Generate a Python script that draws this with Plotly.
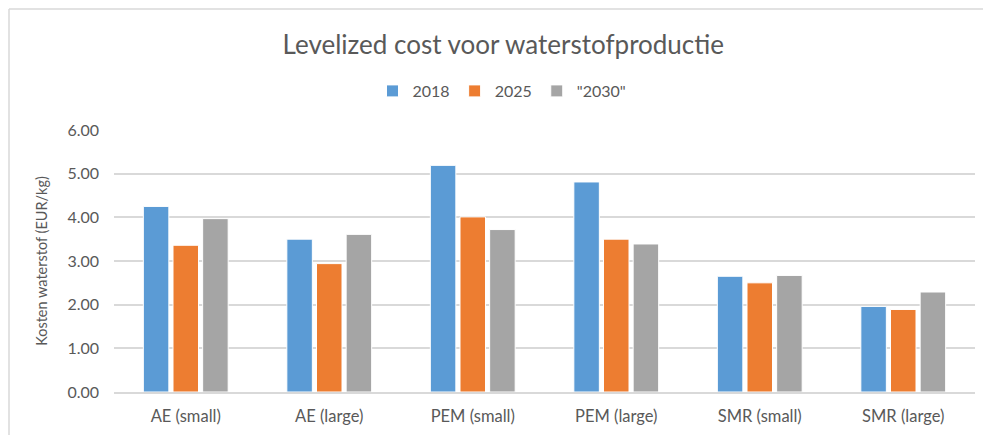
import plotly.graph_objects as go

categories = ["AE (small)", "AE (large)", "PEM (small)", "PEM (large)", "SMR (small)", "SMR (large)"]
series_names = ["2018", "2025", "\"2030\""]
values_2018 = [4.25, 3.50, 5.19, 4.81, 2.65, 1.96]
values_2025 = [3.36, 2.94, 4.01, 3.50, 2.50, 1.89]
values_2030 = [3.97, 3.61, 3.72, 3.39, 2.67, 2.29]
colors = ["#5B9BD5", "#ED7D31", "#A5A5A5"]
tick_vals = [0, 1, 2, 3, 4, 5, 6]
tick_text = ["0.00", "1.00", "2.00", "3.00", "4.00", "5.00", "6.00"]

W, H = 983, 435
ml, mr, mt, mb = 114, 8, 130, 43
pw, ph = W - ml - mr, H - mt - mb

font_family = "Lato, Open Sans, sans-serif"
txt = "#595959"

fig = go.Figure()
for name, vals, c in zip(series_names, [values_2018, values_2025, values_2030], colors):
    fig.add_trace(go.Bar(x=categories, y=vals, name=name, marker=dict(color=c, line=dict(color="white", width=1))))

def px_x(p):
    return (p - ml) / pw

def px_y(p):
    return 1 - (p - mt) / ph

fig.update_layout(
    width=W, height=H,
    margin=dict(l=ml, r=mr, t=mt, b=mb, autoexpand=False),
    paper_bgcolor="white", plot_bgcolor="white",
    barmode="group", bargap=0.38, bargroupgap=0.14,
    font=dict(family=font_family, color=txt, size=16),
    title=dict(text="Levelized cost voor waterstofproductie", x=0.512, xanchor="center",
               y=1 - 45 / H, yanchor="middle", font=dict(size=26, color=txt, family=font_family)),
    legend=dict(orientation="h", x=px_x(502), xanchor="center", y=px_y(91), yanchor="middle",
                font=dict(size=16, color=txt), itemwidth=30, traceorder="normal"),
    xaxis=dict(showgrid=False, showline=True, linecolor="#D9D9D9", linewidth=1.5,
               ticks="", ticklabelstandoff=8, tickfont=dict(size=16.5, color=txt)),
    yaxis=dict(range=[0, 6], tickvals=tick_vals, ticktext=tick_text, showgrid=True,
               gridcolor="#D9D9D9", gridwidth=1.5, zeroline=False, showline=False, ticks="",
               ticklabelstandoff=14, tickfont=dict(size=16, color=txt),
               title=dict(text="Kosten waterstof (EUR/kg)", font=dict(size=14.5, color=txt), standoff=16)),
    shapes=[
        dict(type="line", xref="paper", yref="paper", x0=px_x(9), x1=px_x(1100), y0=px_y(9), y1=px_y(9),
             line=dict(color="#D9D9D9", width=1.5), layer="below"),
        dict(type="line", xref="paper", yref="paper", x0=px_x(9), x1=px_x(9), y0=px_y(9), y1=px_y(500),
             line=dict(color="#D9D9D9", width=1.5), layer="below"),
    ],
)

fig.write_html("out.html", config={"displayModeBar": False},
               post_script="document.body.style.margin='0';document.body.style.overflow='hidden';")
